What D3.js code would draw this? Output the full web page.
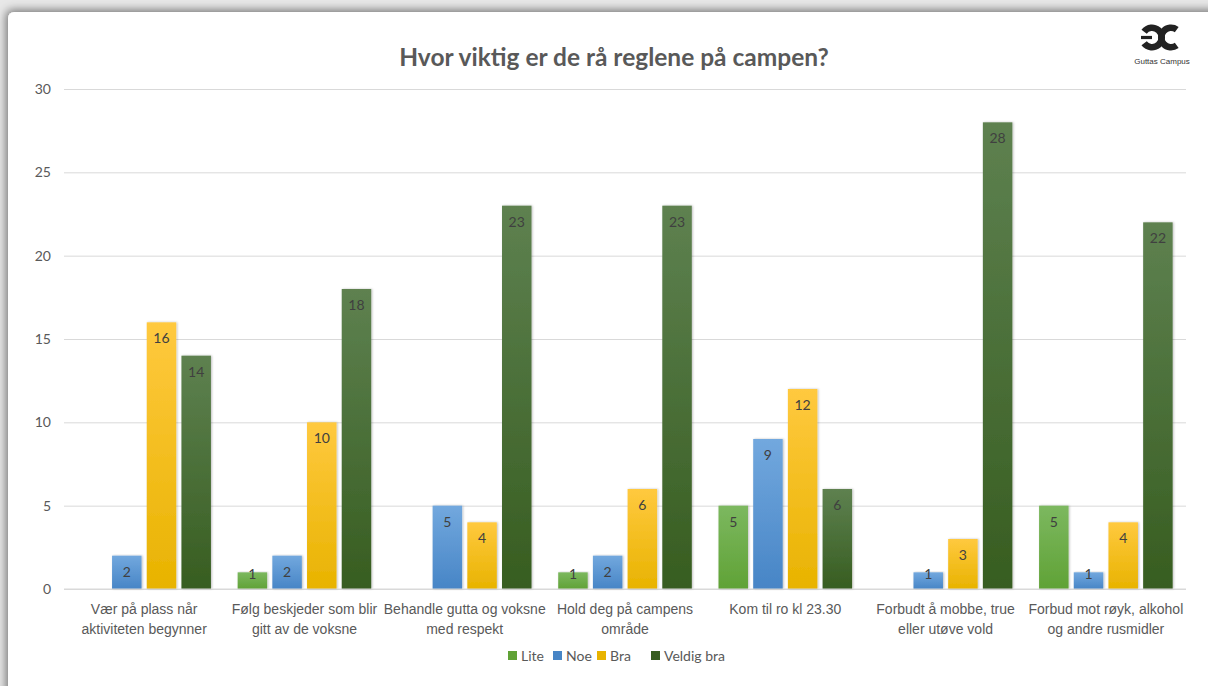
<!DOCTYPE html>
<html>
<head>
<meta charset="utf-8">
<script src="https://cdn.jsdelivr.net/npm/d3@7"></script>
<style>
  html, body { margin: 0; padding: 0; background: #fff; }
  svg { display: block; font-family: Lato, "Open Sans", sans-serif; }
</style>
</head>
<body>
<svg id="chart" width="1208" height="686"></svg>
<script>
// data
const categories = [
    ["Vær på plass når", "aktiviteten begynner"],
    ["Følg beskjeder som blir", "gitt av de voksne"],
    ["Behandle gutta og voksne", "med respekt"],
    ["Hold deg på campens", "område"],
    ["Kom til ro kl 23.30"],
    ["Forbudt å mobbe, true", "eller utøve vold"],
    ["Forbud mot røyk, alkohol", "og andre rusmidler"]
];
const seriesNames = ["Lite", "Noe", "Bra", "Veldig bra"];
const lite      = [0, 1, 0, 1, 5, 0, 5];
const noe       = [2, 2, 5, 2, 9, 1, 1];
const bra       = [16, 10, 4, 6, 12, 3, 4];
const veldigBra = [14, 18, 23, 23, 6, 28, 22];
const yTicks = [0, 5, 10, 15, 20, 25, 30];

const series = [lite, noe, bra, veldigBra];
const colors = [
    ["#7cb85f", "#60a236"],
    ["#72a8de", "#4785c6"],
    ["#ffc93f", "#e8b300"],
    ["#5e8150", "#375d20"]
];

let svg = d3.select('#chart');
let width = +svg.attr('width');
let height = +svg.attr('height');
let margin = { top: 89, right: 22, bottom: 97, left: 64 };

let defs = svg.append('defs');
let shadow = defs.append('filter').attr('id', 'pageShadow')
    .attr('x', '-5%').attr('y', '-5%').attr('width', '110%').attr('height', '110%');
shadow.append('feDropShadow')
    .attr('dx', -2).attr('dy', -2).attr('stdDeviation', 5)
    .attr('flood-color', '#000').attr('flood-opacity', 0.5);
let barShadow = defs.append('filter').attr('id', 'barShadow')
    .attr('x', '-20%').attr('y', '-5%').attr('width', '140%').attr('height', '110%');
barShadow.append('feDropShadow')
    .attr('dx', 1).attr('dy', 0).attr('stdDeviation', 1)
    .attr('flood-color', '#000').attr('flood-opacity', 0.25);

colors.forEach((c, i) => {
    let g = defs.append('linearGradient').attr('id', 'grad' + i)
        .attr('x1', 0).attr('y1', 0).attr('x2', 0).attr('y2', 1);
    g.append('stop').attr('offset', '0%').attr('stop-color', c[0]);
    g.append('stop').attr('offset', '100%').attr('stop-color', c[1]);
});

// background + page
svg.append('rect').attr('width', width).attr('height', height).attr('fill', '#e8e8e8');
svg.append('rect')
    .attr('x', 8).attr('y', 12)
    .attr('width', width + 20).attr('height', height + 20)
    .attr('rx', 6)
    .attr('fill', '#fff')
    .attr('filter', 'url(#pageShadow)');

// title
svg.append('text')
    .attr('x', 614).attr('y', 66)
    .attr('text-anchor', 'middle')
    .attr('font-size', 24.5)
    .attr('font-weight', 'bold')
    .attr('fill', '#595959')
    .text('Hvor viktig er de rå reglene på campen?');

// scales
let x0 = d3.scaleBand()
    .domain(d3.range(categories.length))
    .range([margin.left, width - margin.right])
    .paddingInner(0)
    .paddingOuter(0);
let x1 = d3.scaleBand()
    .domain(d3.range(seriesNames.length))
    .range([0, x0.bandwidth()])
    .paddingInner(0.15)
    .paddingOuter(0.385);
let y = d3.scaleLinear()
    .domain([0, 30])
    .range([height - margin.bottom, margin.top]);

// y axis + gridlines
let yAxis = svg.append('g')
    .attr('transform', `translate(${margin.left},0)`)
    .call(d3.axisLeft(y)
        .tickValues(yTicks)
        .tickSize(-(width - margin.left - margin.right))
        .tickPadding(13));
yAxis.select('.domain').remove();
yAxis.selectAll('.tick line').attr('stroke', '#d9d9d9');
yAxis.selectAll('.tick text')
    .attr('font-size', 14)
    .attr('fill', '#595959')
    .attr('font-family', 'Lato, sans-serif');

// bars
let groups = svg.append('g').selectAll('g')
    .data(categories.map((c, i) => i))
    .join('g')
    .attr('transform', d => `translate(${x0(d)},0)`);

groups.selectAll('rect')
    .data(ci => series.map((s, si) => ({ si: si, v: s[ci] })).filter(d => d.v > 0))
    .join('rect')
    .attr('x', d => x1(d.si))
    .attr('y', d => y(d.v))
    .attr('width', x1.bandwidth())
    .attr('height', d => y(0) - y(d.v))
    .attr('fill', d => `url(#grad${d.si})`)
    .attr('filter', 'url(#barShadow)');

groups.selectAll('text')
    .data(ci => series.map((s, si) => ({ si: si, v: s[ci] })).filter(d => d.v > 0))
    .join('text')
    .attr('x', d => x1(d.si) + x1.bandwidth() / 2)
    .attr('y', d => Math.min(y(d.v) + 21, y(0) - 10))
    .attr('text-anchor', 'middle')
    .attr('font-size', 14)
    .attr('fill', '#404040')
    .text(d => d.v);

// x axis baseline
svg.append('line')
    .attr('x1', margin.left).attr('x2', width - margin.right)
    .attr('y1', y(0)).attr('y2', y(0))
    .attr('stroke', '#d9d9d9');

// category labels
let xAxis = svg.append('g')
    .attr('transform', `translate(0,${y(0)})`)
    .call(d3.axisBottom(x0).tickSize(0).tickFormat(''));
xAxis.select('.domain').remove();
xAxis.selectAll('.tick').each(function(d) {
    let t = d3.select(this).append('text')
        .attr('text-anchor', 'middle')
        .attr('font-size', 14)
        .attr('fill', '#595959');
    categories[d].forEach((line, i) => {
        t.append('tspan').attr('x', 0).attr('y', 25 + i * 20).text(line);
    });
});

// legend
let legendX = [508, 553, 597, 651];
let legend = svg.append('g').selectAll('g')
    .data(seriesNames)
    .join('g')
    .attr('transform', (d, i) => `translate(${legendX[i]},651)`);
legend.append('rect')
    .attr('width', 9).attr('height', 9)
    .attr('fill', (d, i) => colors[i][1]);
legend.append('text')
    .attr('x', 13).attr('y', 10)
    .attr('font-size', 14)
    .attr('fill', '#595959')
    .text(d => d);

// logo
let logo = svg.append('g').attr('transform', 'translate(1161,37.5)');
let arc = d3.arc().innerRadius(6.5).outerRadius(13);
logo.append('path')
    .attr('transform', 'translate(-9,0)')
    .attr('d', arc({ startAngle: -0.3 * Math.PI, endAngle: 1.3 * Math.PI }))
    .attr('fill', '#222');
logo.append('rect')
    .attr('x', -20).attr('y', -1.6).attr('width', 11).attr('height', 3.2)
    .attr('fill', '#222');
logo.append('path')
    .attr('transform', 'translate(10,0)')
    .attr('d', arc({ startAngle: 0.8 * Math.PI, endAngle: 2.2 * Math.PI }))
    .attr('fill', '#222');
logo.append('text')
    .attr('x', 1).attr('y', 26)
    .attr('text-anchor', 'middle')
    .attr('font-size', 8)
    .attr('font-family', 'Liberation Sans, Arial, sans-serif')
    .attr('fill', '#333')
    .text('Guttas Campus');
</script>
</body>
</html>
